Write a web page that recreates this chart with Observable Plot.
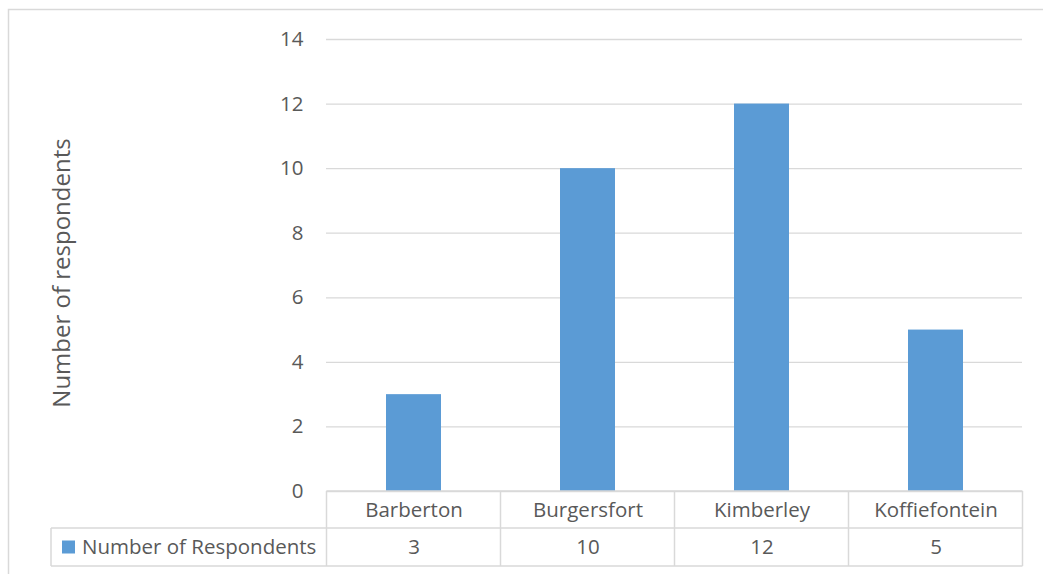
<!DOCTYPE html>
<html><head><meta charset="utf-8">
<script src="https://cdn.jsdelivr.net/npm/d3@7"></script>
<script src="https://cdn.jsdelivr.net/npm/@observablehq/plot@0.6"></script>
<style>
html,body{margin:0;padding:0;background:#fff;}
#chart{position:relative;width:1043px;height:574px;overflow:hidden;}
</style></head><body><div id="chart"></div>
<script>
const categories = ["Barberton", "Burgersfort", "Kimberley", "Koffiefontein"];
const respondents = [3, 10, 12, 5];
const yTicks = [0, 2, 4, 6, 8, 10, 12, 14];
const seriesName = "Number of Respondents";
const yTitle = "Number of respondents";

const data = categories.map((c, i) => ({category: c, value: respondents[i]}));
const W = 1043, H = 574;
const FONT = "'Open Sans', sans-serif";
const TXT = "#595959";
const BLUE = "#5B9BD5";
const LINE = "#D9D9D9";

const plot = Plot.plot({
  width: W, height: H,
  marginLeft: 326, marginRight: 21, marginTop: 39, marginBottom: 83,
  style: {fontFamily: FONT, fontSize: "20.5px", color: TXT, background: "#fff", overflow: "visible"},
  x: {domain: categories, paddingInner: 0.685, paddingOuter: 0.3425, axis: null},
  y: {domain: [0, 14], axis: null, label: null},
  marks: [
    Plot.gridY(yTicks, {stroke: LINE, strokeOpacity: 1, strokeWidth: 1.3}),
    Plot.barY(data, {x: "category", y: "value", fill: BLUE}),
    Plot.axisY(yTicks, {tickSize: 0, tickPadding: 23, fontSize: 20.5, fill: TXT, label: null}),
    Plot.text(data, {x: "category", text: "category", frameAnchor: "bottom", lineAnchor: "middle", dy: 19, fill: TXT, fontSize: 20.5}),
    Plot.text(data, {x: "category", text: d => String(d.value), frameAnchor: "bottom", lineAnchor: "middle", dy: 56, fill: TXT, fontSize: 20.5})
  ]
});
document.getElementById("chart").appendChild(plot);

// table grid and legend via the plot's scales
const svg = d3.select(plot);
const xs = plot.scale("x"), ys = plot.scale("y");
const half = (xs.step - xs.bandwidth) / 2;
const edges = categories.map(c => xs.apply(c) - half);
edges.push(xs.apply(categories[categories.length - 1]) + xs.bandwidth + half);
const y0 = ys.apply(0);
const rowMid = y0 + 37, rowBot = y0 + 75;
const legendLeft = 51;
const g = svg.append("g").attr("stroke", LINE).attr("stroke-width", 1.5).attr("fill", "none");
g.append("line").attr("x1", edges[0]).attr("x2", edges[edges.length - 1]).attr("y1", y0).attr("y2", y0);
g.append("line").attr("x1", legendLeft).attr("x2", edges[edges.length - 1]).attr("y1", rowMid).attr("y2", rowMid);
g.append("line").attr("x1", legendLeft).attr("x2", edges[edges.length - 1]).attr("y1", rowBot).attr("y2", rowBot);
g.append("line").attr("x1", legendLeft).attr("x2", legendLeft).attr("y1", rowMid).attr("y2", rowBot);
edges.forEach(e => g.append("line").attr("x1", e).attr("x2", e).attr("y1", y0).attr("y2", rowBot));

// legend key in the table
svg.append("rect").attr("x", 62).attr("y", rowMid + 12.5).attr("width", 13).attr("height", 13).attr("fill", BLUE);
svg.append("text").attr("x", 82).attr("y", (rowMid + rowBot) / 2).attr("dy", "0.35em")
  .attr("text-anchor", "start")
  .attr("fill", TXT).attr("font-size", 20.5).attr("font-family", FONT).text(seriesName);

// y-axis title
svg.append("text").attr("transform", `translate(70,${(ys.apply(0) + ys.apply(14)) / 2 + 8}) rotate(-90)`)
  .attr("text-anchor", "middle").attr("fill", TXT).attr("font-size", 24).attr("font-family", FONT).text(yTitle);

// outer chart border
svg.append("path").attr("d", `M8.5,${H} V9.5 H${W}`).attr("stroke", LINE).attr("stroke-width", 1.5).attr("fill", "none");
</script>
</body></html>
